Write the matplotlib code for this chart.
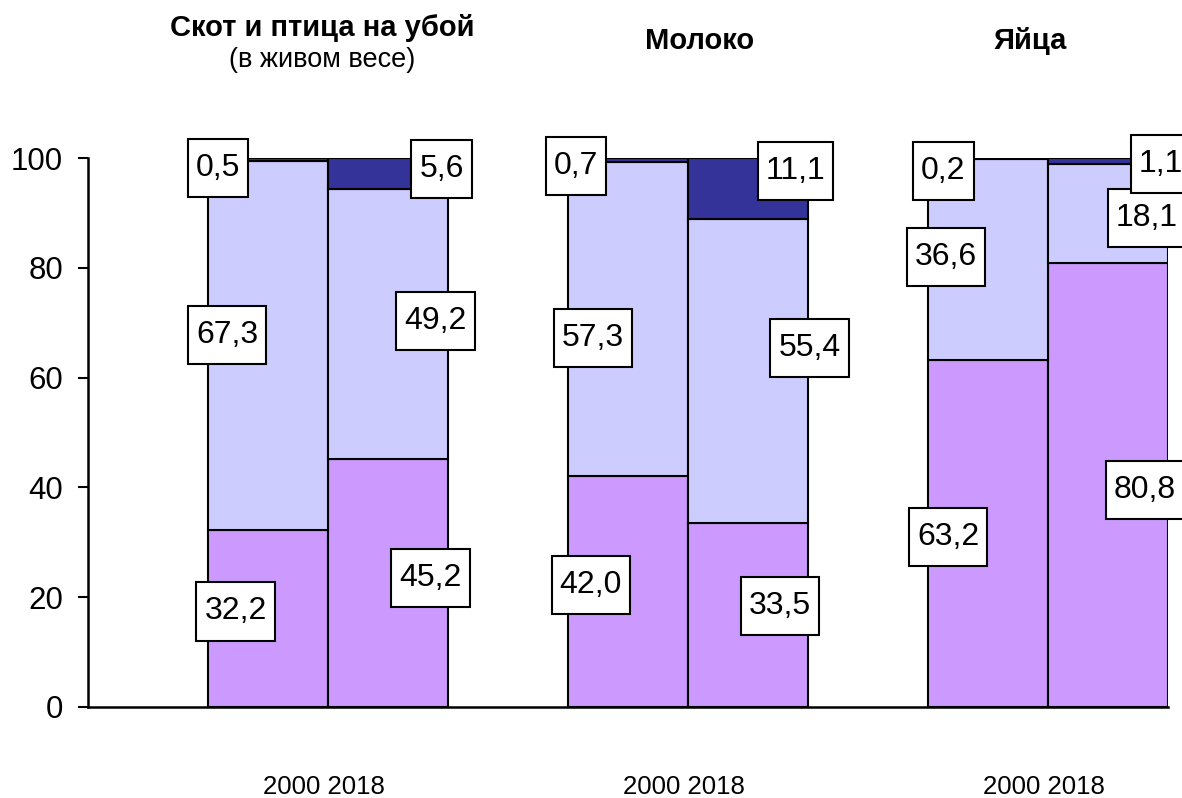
import matplotlib.pyplot as plt
from matplotlib.path import Path
from matplotlib.transforms import blended_transform_factory


# groups and years
CATEGORIES = ["Скот и птица на убой", "Молоко", "Яйца"]
SUBTITLES = ["(в живом весе)", "", ""]
YEARS = ["2000", "2018"]

# stacked shares, %, order: [cat0 2000, cat0 2018, cat1 2000, ...]
BOTTOM_VALUES = [32.2, 45.2, 42.0, 33.5, 63.2, 80.8]
MIDDLE_VALUES = [67.3, 49.2, 57.3, 55.4, 36.6, 18.1]
TOP_VALUES = [0.5, 5.6, 0.7, 11.1, 0.2, 1.1]

Y_TICKS = [0, 20, 40, 60, 80, 100]

# layout only: label box centres (x offset from bar centre, y in data units)
LABEL_DX = {
    "bottom": [-0.27, 0.354, -0.31, 0.267, -0.333, 0.308],
    "middle": [-0.342, 0.396, -0.292, 0.512, -0.35, 0.325],
    "top": [-0.417, 0.446, -0.433, 0.396, -0.371, 0.442],
}
LABEL_Y = {
    "bottom": [17.4, 23.5, 22.3, 18.4, 30.9, 39.5],
    "middle": [67.7, 70.3, 67.2, 65.4, 81.9, 89.0],
    "top": [98.2, 98.0, 98.6, 97.6, 97.7, 98.9],
}
TITLE_X = [1.95, 5.10, 7.85]

COLORS = {"bottom": "#CC99FF", "middle": "#CCCCFF", "top": "#333399"}
FONT = "Liberation Sans"


def fmt(value: float) -> str:
    return f"{value:.1f}".replace(".", ",")


def label_box(x0, y0, width, height, mutation_size):
    # square box with more room above and below than at the sides
    px = 0.25 * mutation_size
    py = 0.44 * mutation_size
    x0, x1 = x0 - px, x0 + width + px
    y0, y1 = y0 - py, y0 + height + py
    return Path([(x0, y0), (x1, y0), (x1, y1), (x0, y1), (x0, y0)], closed=True)


def main() -> None:
    plt.rcParams["font.family"] = [FONT, "DejaVu Sans"]
    fig = plt.figure(figsize=(11.82, 7.98), dpi=100)
    ax = fig.add_axes([88 / 1182, 91 / 798, 1080 / 1182, 549 / 798])

    # bar centres: each group has one empty slot then two bars
    centers = []
    for g in range(len(CATEGORIES)):
        for b in range(len(YEARS)):
            centers.append(1.5 + 3 * g + b)

    series = {"bottom": BOTTOM_VALUES, "middle": MIDDLE_VALUES, "top": TOP_VALUES}
    base = [0.0] * len(centers)
    for key in ["bottom", "middle", "top"]:
        values = series[key]
        ax.bar(centers, values, width=1.0, bottom=base, color=COLORS[key],
               edgecolor="black", linewidth=1.5, zorder=2)
        base = [b + v for b, v in zip(base, values)]

    for key in ["bottom", "middle", "top"]:
        for i, value in enumerate(series[key]):
            ax.text(centers[i] + LABEL_DX[key][i], LABEL_Y[key][i], fmt(value),
                    ha="center", va="center", fontsize=23, zorder=5, clip_on=False,
                    bbox=dict(boxstyle=label_box, facecolor="white",
                              edgecolor="black", linewidth=1.5))

    ax.set_xlim(0, 9)
    ax.set_ylim(0, 100)
    ax.set_yticks(Y_TICKS)
    ax.set_xticks([])
    ax.tick_params(axis="y", labelsize=22.5, length=7, width=1.5, pad=11, direction="out")
    for side in ["top", "right"]:
        ax.spines[side].set_visible(False)
    for side in ["left", "bottom"]:
        ax.spines[side].set_linewidth(1.8)

    trans = blended_transform_factory(ax.transData, fig.transFigure)
    for g, name in enumerate(CATEGORIES):
        group_center = 3 * g + 2.0
        ax.text(group_center - 0.03, 1 - 787 / 798, " ".join(YEARS), transform=trans,
                ha="center", va="center", fontsize=18.5)
        if SUBTITLES[g]:
            ax.text(TITLE_X[g], 1 - 28 / 798, name, transform=trans, ha="center",
                    va="center", fontsize=21, fontweight="bold")
            ax.text(TITLE_X[g], 1 - 60 / 798, SUBTITLES[g], transform=trans,
                    ha="center", va="center", fontsize=19.5)
        else:
            ax.text(TITLE_X[g], 1 - 41 / 798, name, transform=trans, ha="center",
                    va="center", fontsize=21, fontweight="bold")

    fig.savefig("out.png", dpi=100)
    plt.close(fig)


if __name__ == "__main__":
    main()
